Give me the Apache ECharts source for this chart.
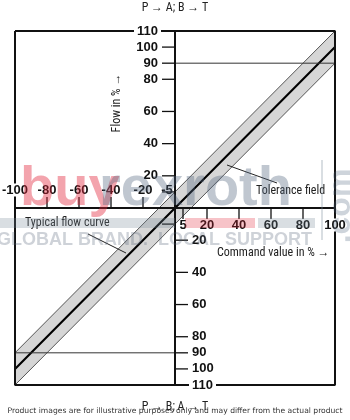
<!DOCTYPE html>
<html><head><meta charset="utf-8">
<script src="https://cdn.jsdelivr.net/npm/echarts@6/dist/echarts.min.js"></script>
<style>html,body{margin:0;padding:0;background:#fff}#c{width:350px;height:420px}</style>
</head><body><div id="c"></div>
<script>
// ---- data ----
const xNegLabels = [-100, -80, -60, -40, -20, -5];
const xNegTicks = [-80, -60, -40, -20];
const xPosLabels = [5, 20, 40, 60, 80, 100];
const xPosTicks = [5, 20, 40, 60, 80];
const yUpLabels = [20, 40, 60, 80, 90, 100, 110];
const yUpTicks = [10, 20, 40, 60, 80, 90, 100];
const yDownLabels = [-20, -40, -60, -80, -90, -100, -110];
const yDownTicks = [-20, -40, -60, -80, -90, -100];
const yDownLeftTicks = [-10];
const command = [-100, 0, 100];
const typicalFlow = [-100, 0, 100];
const toleranceUpper = [-90, 10, 110];
const toleranceLower = [-110, -10, 90];
const refLevels = [90, -90];
const xRange = [-100, 100];
const yRange = [-110, 110];
const edgeLabels = [110, -110, -100, 100];

const chart = echarts.init(document.getElementById('c'), null, {renderer: 'canvas'});
const NF = "'Liberation Sans Narrow','Roboto Condensed','Liberation Sans',sans-serif";
const BF = "bold 13px 'Liberation Sans',Arial,sans-serif";
const INK = '#111';

function pairs(xs, ys) { return xs.map((x, i) => [x, ys[i]]); }
function lineSeries(data, width, color, z) {
  return {type: 'line', data: data, showSymbol: false, symbol: 'none', clip: false, silent: true,
    lineStyle: {width: width, color: color}, z: z, animation: false};
}
function tickSeries(values, axis, dir) {
  return {
    type: 'custom', coordinateSystem: 'cartesian2d', clip: false, silent: true, z: 6,
    data: values.map(v => axis === 'x' ? [v, 0] : [0, v]),
    renderItem: function (params, api) {
      const p = api.coord([api.value(0), api.value(1)]);
      const L = axis === 'x' ? 11 : 13;
      let x2 = p[0], y2 = p[1];
      if (dir === 'up') y2 -= L; else if (dir === 'down') y2 += L;
      else if (dir === 'left') x2 -= L; else x2 += L;
      return {type: 'line', shape: {x1: p[0], y1: p[1], x2: x2, y2: y2}, style: {stroke: INK, lineWidth: 1.3}};
    }
  };
}
function labelSeries(values, axis, side) {
  return {
    type: 'custom', coordinateSystem: 'cartesian2d', clip: false, silent: true, z: 8,
    data: values.map(v => axis === 'x' ? [v, 0] : [0, v]),
    renderItem: function (params, api) {
      const vx = api.value(0), vy = api.value(1);
      const p = api.coord([vx, vy]);
      const v = axis === 'x' ? vx : vy;
      const txt = axis === 'x' ? String(v) : String(Math.abs(v));
      let x = p[0], y = p[1], align = 'center';
      if (side === 'above') y -= 18;
      else if (side === 'below') y += 17;
      else if (side === 'left') { x -= 17; align = 'right'; }
      else { x += 17; align = 'left'; }
      const edge = edgeLabels.indexOf(v) >= 0;
      const st = {text: txt, x: x, y: y, font: BF, fill: INK,
        align: align, verticalAlign: 'middle', textAlign: align, textVerticalAlign: 'middle'};
      if (edge) { st.backgroundColor = '#fff'; st.padding = [0, 3, 0, 3]; if (align === 'right') st.x += 3; if (align === 'left') st.x -= 3; }
      return {type: 'text', style: st};
    }
  };
}

const bandSeries = {
  type: 'custom', coordinateSystem: 'cartesian2d', clip: false, silent: true, z: 2,
  data: command.map((c, i) => [c, toleranceUpper[i], toleranceLower[i]]),
  renderItem: function (params, api) {
    if (params.dataIndex !== 0) return null;
    const up = command.map((c, i) => api.coord([c, toleranceUpper[i]]));
    const lo = command.map((c, i) => api.coord([c, toleranceLower[i]])).reverse();
    return {type: 'polygon', shape: {points: up.concat(lo)}, style: {fill: '#d6d6d6'}};
  }
};

const frame = [[xRange[0], yRange[1]], [xRange[1], yRange[1]], [xRange[1], yRange[0]], [xRange[0], yRange[0]], [xRange[0], yRange[1]]];

function txt(x, y, text, font, fill, align, z, rot) {
  const e = {type: 'text', x: x, y: y, z: z || 10, style: {text: text, font: font, fill: fill, align: align, verticalAlign: 'middle', textAlign: align, textVerticalAlign: 'middle'}};
  if (rot) e.rotation = rot;
  return e;
}

const option = {
  animation: false,
  grid: {left: 15, right: 15, top: 31, bottom: 35},
  xAxis: {type: 'value', min: xRange[0], max: xRange[1], show: false},
  yAxis: {type: 'value', min: yRange[0], max: yRange[1], show: false},
  series: [
    bandSeries,
    lineSeries(pairs(command, toleranceUpper), 1, '#555', 3),
    lineSeries(pairs(command, toleranceLower), 1, '#555', 3),
    lineSeries(pairs(command, typicalFlow), 2.1, '#000', 4),
    lineSeries([[0, refLevels[0]], [xRange[1], refLevels[0]]], 1, '#333', 4),
    lineSeries([[xRange[0], refLevels[1]], [0, refLevels[1]]], 1, '#333', 4),
    lineSeries([[xRange[0], 0], [xRange[1], 0]], 2, INK, 5),
    lineSeries([[0, yRange[0]], [0, yRange[1]]], 2, INK, 5),
    lineSeries(frame, 2, INK, 5),
    tickSeries(xNegTicks, 'x', 'up'),
    tickSeries(xPosTicks, 'x', 'down'),
    tickSeries(yUpTicks, 'y', 'left'),
    tickSeries(yDownTicks, 'y', 'right'),
    tickSeries(yDownLeftTicks, 'y', 'left'),
    labelSeries(xNegLabels, 'x', 'above'),
    labelSeries(xPosLabels, 'x', 'below'),
    labelSeries(yUpLabels, 'y', 'left'),
    labelSeries(yDownLabels, 'y', 'right')
  ],
  graphic: [
    txt(175, 8, 'P → A; B → T', '12px ' + NF, '#222', 'center'),
    txt(175, 407, 'P → B; A → T', '12px ' + NF, '#222', 'center'),
    txt(117, 103, 'Flow in % →', '12px ' + NF, '#222', 'center', 10, Math.PI / 2),
    txt(217, 253, 'Command value in % →', '12px ' + NF, '#222', 'left'),
    txt(256, 191, 'Tolerance field', '12px ' + NF, '#222', 'left'),
    {type: 'line', z: 10, shape: {x1: 227, y1: 165, x2: 277, y2: 183}, style: {stroke: '#222', lineWidth: 1}},
    txt(25, 223, 'Typical flow curve', '12px ' + NF, '#222', 'left'),
    {type: 'line', z: 10, shape: {x1: 88, y1: 234, x2: 126, y2: 253}, style: {stroke: '#222', lineWidth: 1}},
    // watermark
    {type: 'rect', z: 20, shape: {x: 0, y: 218, width: 175, height: 10}, style: {fill: 'rgba(120,135,150,0.28)'}},
    {type: 'rect', z: 20, shape: {x: 185, y: 218, width: 70, height: 10}, style: {fill: 'rgba(227,38,59,0.28)'}},
    {type: 'rect', z: 20, shape: {x: 258, y: 218, width: 57, height: 10}, style: {fill: 'rgba(120,135,150,0.28)'}},
    {type: 'rect', z: 20, shape: {x: 321, y: 160, width: 2, height: 80}, style: {fill: 'rgba(120,135,150,0.28)'}},
    txt(20, 190, 'buy', "bold 56px 'Liberation Sans',Arial,sans-serif", 'rgba(227,38,59,0.42)', 'left', 20),
    txt(99, 190, 'rexroth', "bold 56px 'Liberation Sans',Arial,sans-serif", 'rgba(80,100,125,0.36)', 'left', 20),
    txt(341, 206, '.com', "bold 32px 'Liberation Sans',Arial,sans-serif", 'rgba(80,100,125,0.28)', 'center', 20, Math.PI / 2),
    txt(-3, 240, 'GLOBAL BRAND.  LOCAL SUPPORT', "bold 18px 'Liberation Sans',Arial,sans-serif", 'rgba(80,95,115,0.28)', 'left', 20),
    txt(175, 411, 'Product images are for illustrative purposes only and may differ from the actual product', "7.6px 'DejaVu Sans',Verdana,sans-serif", '#333', 'center', 21)
  ]
};
chart.setOption(option);
</script></body></html>
